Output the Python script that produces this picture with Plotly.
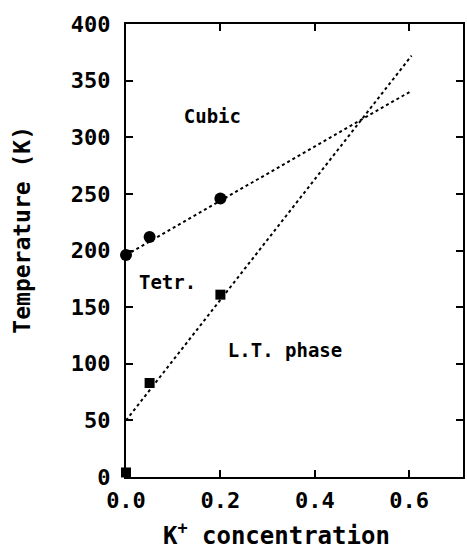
import plotly.graph_objects as go

# Data
circle_x = [0.0, 0.05, 0.2]
circle_y = [196, 212, 246]
square_x = [0.0, 0.05, 0.2]
square_y = [4, 83, 161]
fit_x = [0.0, 0.605]
cubic_fit_y = [196, 341]
lt_fit_y = [50, 372]
labels = ["Cubic", "Tetr.", "L.T. phase"]
label_x = [0.183, 0.088, 0.337]
label_y = [317, 170, 110]
x_ticks = [0, 0.2, 0.4, 0.6]
x_ticktext = ["0.0", "0.2", "0.4", "0.6"]
y_ticks = [0, 50, 100, 150, 200, 250, 300, 350, 400]

FONT = "DejaVu Sans Mono"
W = "bold"

fig = go.Figure()
fig.add_trace(go.Scatter(x=fit_x, y=cubic_fit_y, mode="lines",
                         line=dict(color="black", width=2, dash="dot"),
                         showlegend=False, cliponaxis=False))
fig.add_trace(go.Scatter(x=fit_x, y=lt_fit_y, mode="lines",
                         line=dict(color="black", width=2, dash="dot"),
                         showlegend=False, cliponaxis=False))
fig.add_trace(go.Scatter(x=circle_x, y=circle_y, mode="markers",
                         marker=dict(symbol="circle", size=12, color="black"),
                         showlegend=False, cliponaxis=False))
fig.add_trace(go.Scatter(x=square_x, y=square_y, mode="markers",
                         marker=dict(symbol="square", size=10, color="black"),
                         showlegend=False, cliponaxis=False))
fig.add_trace(go.Scatter(x=label_x, y=label_y, mode="text", text=labels,
                         textfont=dict(family=FONT, size=19, color="black", weight=W),
                         showlegend=False))

axis_common = dict(showgrid=False, zeroline=False, showline=True, linecolor="black",
                   linewidth=2, mirror="ticks", ticks="inside", ticklen=7,
                   tickwidth=2, tickcolor="black",
                   tickfont=dict(family=FONT, size=22, color="black", weight=W))

fig.update_xaxes(range=[0, 0.714], tickvals=x_ticks, ticktext=x_ticktext,
                 ticklabelstandoff=3, **axis_common)
fig.update_yaxes(range=[0, 400], tickvals=y_ticks, ticklabelstandoff=9,
                 **axis_common)

fig.add_annotation(text="K<sup>+</sup> concentration", xref="paper", yref="paper",
                   x=0.448, y=-0.125, xanchor="center", yanchor="middle",
                   showarrow=False, font=dict(family=FONT, size=24, color="black", weight=W))
fig.add_annotation(text="Temperature (K)", xref="paper", yref="paper",
                   x=-0.307, y=0.545, xanchor="center", yanchor="middle",
                   textangle=-90, showarrow=False,
                   font=dict(family=FONT, size=23, color="black", weight=W))

fig.update_layout(width=467, height=553, margin=dict(l=126, r=2, t=24, b=76),
                  plot_bgcolor="white", paper_bgcolor="white")

fig.write_html("out.html")
